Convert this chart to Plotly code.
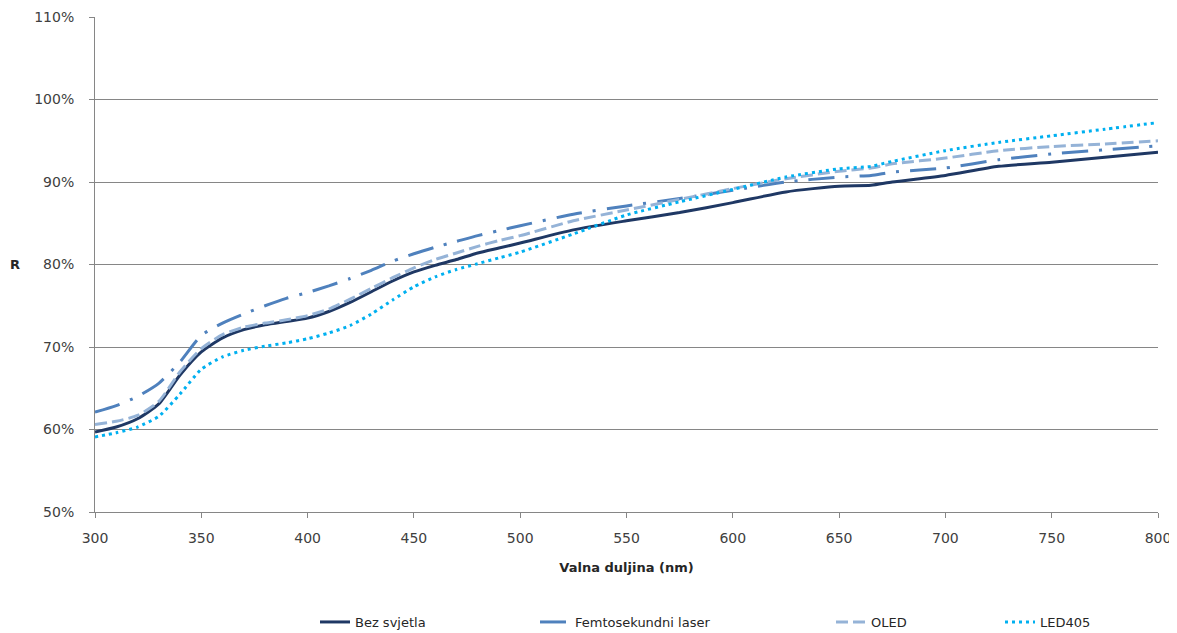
import plotly.graph_objects as go

wavelength = [300, 310, 320, 330, 340, 350, 360, 370, 380, 390, 400, 410, 420, 430, 440,
              450, 460, 470, 480, 490, 500, 525, 550, 575, 600, 625, 650, 665, 675, 700,
              725, 750, 775, 800]

bez_svjetla = [59.7, 60.3, 61.3, 63.1, 66.6, 69.4, 71.1, 72.1, 72.7, 73.1, 73.5, 74.3, 75.4, 76.7, 78.0,
               79.1, 79.9, 80.6, 81.4, 82.0, 82.6, 84.2, 85.3, 86.3, 87.5, 88.8, 89.5, 89.6, 90.0, 90.8,
               91.9, 92.4, 93.0, 93.6]

femto_laser = [62.1, 62.9, 64.0, 65.6, 68.2, 71.4, 72.9, 74.0, 75.0, 75.9, 76.6, 77.4, 78.3, 79.3, 80.4,
               81.3, 82.1, 82.8, 83.5, 84.1, 84.7, 86.1, 87.1, 88.0, 89.0, 90.0, 90.6, 90.8, 91.2, 91.7,
               92.7, 93.4, 93.9, 94.4]

oled = [60.6, 61.0, 61.7, 63.4, 67.0, 69.8, 71.5, 72.4, 72.9, 73.3, 73.8, 74.6, 75.8, 77.1, 78.4,
        79.6, 80.6, 81.4, 82.2, 82.9, 83.5, 85.3, 86.6, 87.9, 89.2, 90.4, 91.3, 91.7, 92.2, 92.9,
        93.8, 94.3, 94.6, 95.0]

led405 = [59.1, 59.6, 60.3, 61.6, 64.3, 67.3, 68.8, 69.6, 70.1, 70.5, 71.0, 71.7, 72.6, 74.0, 75.7,
          77.3, 78.5, 79.4, 80.1, 80.8, 81.5, 83.7, 86.0, 87.6, 89.1, 90.6, 91.6, 91.9, 92.5, 93.8,
          94.8, 95.6, 96.4, 97.2]

series_names = ["Bez svjetla", "Femtosekundni laser", "OLED", "LED405"]
series_values = [bez_svjetla, femto_laser, oled, led405]
colors = ["#1F3864", "#4F81BD", "#95B3D7", "#00B0F0"]
dashes = ["solid", "26px,11px,3px,11px", "12px,5px", "3px,4px"]
legend_ids = ["legend", "legend2", "legend3", "legend4"]

# page offset (browser body margin) compensation
OFF = 8
legend_text_px = [352, 572, 868, 1037]
PLOT_L, PLOT_R, PLOT_T, PLOT_B = 95 - OFF, 1158 - OFF, 17 - OFF, 512 - OFF
W, H = 1177 - OFF, 633 - OFF
LEGEND_Y = 622 - OFF
R_X, R_Y = 15 - OFF, 264 - OFF

fig = go.Figure()
for name, vals, col, dsh, lg in zip(series_names, series_values, colors, dashes, legend_ids):
    fig.add_trace(go.Scatter(
        x=wavelength, y=[v / 100 for v in vals], name=name, mode="lines",
        line=dict(color=col, width=3, dash=dsh, shape="spline", smoothing=0.6),
        legend=lg, showlegend=True,
    ))

grid_col = "#868686"
font_fam = "DejaVu Sans"

layout_legends = {}
for lg, tx in zip(legend_ids, legend_text_px):
    layout_legends[lg] = dict(
        x=(tx - 45 - PLOT_L) / (PLOT_R - PLOT_L),
        xanchor="left",
        yref="container",
        y=1 - LEGEND_Y / H,
        yanchor="middle",
        orientation="h",
        bgcolor="rgba(0,0,0,0)",
        font=dict(family=font_fam, size=13, color="#262626"),
    )

fig.update_layout(
    width=W, height=H,
    margin=dict(l=PLOT_L, r=W - PLOT_R, t=PLOT_T, b=H - PLOT_B),
    plot_bgcolor="white", paper_bgcolor="white",
    font=dict(family=font_fam, size=13, color="#404040"),
    xaxis=dict(
        range=[300, 800], dtick=50, tick0=300,
        showgrid=False, showline=True, linecolor=grid_col, linewidth=1,
        ticks="outside", ticklen=5, tickcolor=grid_col, ticklabelstandoff=8,
        tickfont=dict(family=font_fam, size=14, color="#404040"),
        title=dict(text="<b>Valna duljina (nm)</b>", font=dict(family=font_fam, size=13, color="#262626"), standoff=18),
        zeroline=False, automargin=False,
    ),
    yaxis=dict(
        range=[0.5, 1.1], dtick=0.1, tick0=0.5, tickformat=".0%",
        showgrid=True, gridcolor=grid_col, gridwidth=1,
        showline=True, linecolor=grid_col, linewidth=1,
        ticks="outside", ticklen=5, tickcolor=grid_col, ticklabelstandoff=12,
        tickfont=dict(family=font_fam, size=14, color="#404040"),
        zeroline=False, automargin=False,
    ),
    annotations=[dict(
        text="<b>R</b>", xref="paper", yref="paper",
        x=(R_X - PLOT_L) / (PLOT_R - PLOT_L), y=(PLOT_B - R_Y) / (PLOT_B - PLOT_T),
        showarrow=False, xanchor="center", yanchor="middle",
        font=dict(family=font_fam, size=13, color="#262626"),
    )],
    **layout_legends,
)

fig.write_html("out.html")
